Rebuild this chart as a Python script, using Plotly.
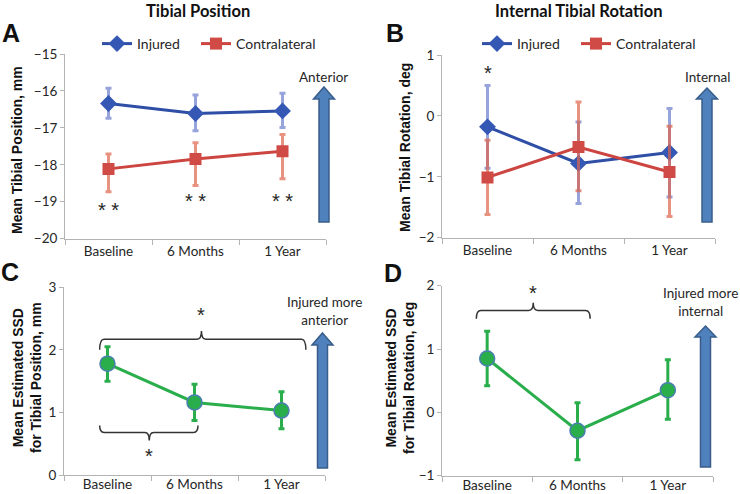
import plotly.graph_objects as go

W, H = 740, 494

# ---- data ----
periods = ['Baseline', '6 Months', '1 Year']

# A: tibial position, mm
pos_inj = [-16.34, -16.61, -16.54]
pos_inj_up = [0.41, 0.50, 0.48]
pos_inj_dn = [0.40, 0.47, 0.45]
pos_con = [-18.11, -17.84, -17.63]
pos_con_up = [0.40, 0.44, 0.45]
pos_con_dn = [0.62, 0.72, 0.75]

# B: internal tibial rotation, deg
rot_inj = [-0.18, -0.78, -0.60]
rot_inj_up = [0.68, 0.68, 0.72]
rot_inj_dn = [0.68, 0.66, 0.73]
rot_con = [-1.01, -0.51, -0.92]
rot_con_up = [0.61, 0.74, 0.75]
rot_con_dn = [0.61, 0.72, 0.73]

# C / D: side-to-side difference
ssd_pos = [1.78, 1.16, 1.03]
ssd_pos_up = [0.27, 0.29, 0.30]
ssd_pos_dn = [0.28, 0.29, 0.29]
ssd_rot = [0.85, -0.29, 0.35]
ssd_rot_up = [0.43, 0.44, 0.48]
ssd_rot_dn = [0.43, 0.46, 0.46]

BLUE, BLUE_ERR = '#2f4fa6', 'rgba(95,115,200,0.65)'
RED, RED_ERR = '#cc4540', 'rgba(222,100,75,0.7)'
GREEN = '#2aae4c'
AXC = '#b3b3b3'
TXT = '#262626'
FONT = 'Lato'
BOLD = 'Liberation Sans'


def px(x):
    return x / W


def py(y):
    return 1 - y / H


x = list(range(len(periods)))
fig = go.Figure()


def err(up, dn, color):
    return dict(type='data', array=up, arrayminus=dn, color=color,
                thickness=3, width=3)


fig.add_trace(go.Scatter(x=x, y=pos_inj, name='Injured', mode='lines+markers',
                         line=dict(color=BLUE, width=3),
                         marker=dict(symbol='diamond', size=13, color='#3558b5'),
                         error_y=err(pos_inj_up, pos_inj_dn, BLUE_ERR),
                         xaxis='x', yaxis='y', legend='legend'))
fig.add_trace(go.Scatter(x=x, y=pos_con, name='Contralateral', mode='lines+markers',
                         line=dict(color=RED, width=3),
                         marker=dict(symbol='square', size=12, color='#d04a46'),
                         error_y=err(pos_con_up, pos_con_dn, RED_ERR),
                         xaxis='x', yaxis='y', legend='legend3'))
fig.add_trace(go.Scatter(x=x, y=rot_inj, name='Injured', mode='lines+markers',
                         line=dict(color=BLUE, width=3),
                         marker=dict(symbol='diamond', size=13, color='#3558b5'),
                         error_y=err(rot_inj_up, rot_inj_dn, BLUE_ERR),
                         xaxis='x2', yaxis='y2', legend='legend2'))
fig.add_trace(go.Scatter(x=x, y=rot_con, name='Contralateral', mode='lines+markers',
                         line=dict(color=RED, width=3),
                         marker=dict(symbol='square', size=12, color='#d04a46'),
                         error_y=err(rot_con_up, rot_con_dn, RED_ERR),
                         xaxis='x2', yaxis='y2', legend='legend4'))
fig.add_trace(go.Scatter(x=x, y=ssd_pos, mode='lines+markers', showlegend=False,
                         line=dict(color=GREEN, width=3),
                         marker=dict(size=15, color=GREEN, line=dict(color='#4a7fb0', width=1.5)),
                         error_y=err(ssd_pos_up, ssd_pos_dn, GREEN),
                         xaxis='x3', yaxis='y3'))
fig.add_trace(go.Scatter(x=x, y=ssd_rot, mode='lines+markers', showlegend=False,
                         line=dict(color=GREEN, width=3),
                         marker=dict(size=15, color=GREEN, line=dict(color='#4a7fb0', width=1.5)),
                         error_y=err(ssd_rot_up, ssd_rot_dn, GREEN),
                         xaxis='x4', yaxis='y4'))


def xax(x0, x1, anchor, standoff=0):
    return dict(domain=[px(x0), px(x1)], anchor=anchor, range=[-0.5, 2.5],
                tickvals=x, ticktext=periods, ticks='', showline=True,
                linecolor=AXC, linewidth=1, showgrid=False, zeroline=False,
                ticklabelstandoff=standoff,
                tickfont=dict(family=FONT, size=13.5, color=TXT), automargin=False,
                minor=dict(tickvals=[-0.5, 0.5, 1.5, 2.5], ticks='outside',
                           ticklen=5, tickcolor=AXC, showgrid=False),
                fixedrange=True)


def yax(y0, y1, anchor, rng):
    return dict(domain=[py(y0), py(y1)], anchor=anchor, range=rng, dtick=1,
                ticks='outside', ticklen=4, tickcolor=AXC, showline=True,
                linecolor=AXC, linewidth=1, showgrid=False, zeroline=False,
                automargin=False,
                tickfont=dict(family=FONT, size=13.5, color=TXT), fixedrange=True)


leg = dict(orientation='h', xanchor='left', yanchor='middle', y=py(44),
           font=dict(family=FONT, size=14, color=TXT), bgcolor='rgba(0,0,0,0)')

fig.update_layout(
    width=W, height=H, margin=dict(l=0, r=0, t=0, b=0, autoexpand=False),
    paper_bgcolor='white', plot_bgcolor='white',
    xaxis=xax(65, 326, 'y'), yaxis=yax(238.7, 54, 'x', [-20, -15]),
    xaxis2=xax(442, 715, 'y2'), yaxis2=yax(237.7, 55, 'x2', [-2, 1]),
    xaxis3=xax(64, 325, 'y3', -3), yaxis3=yax(475, 287.3, 'x3', [0, 3]),
    xaxis4=xax(442, 713, 'y4', -3), yaxis4=yax(475.7, 285.7, 'x4', [-1, 2]),
    legend=dict(leg, x=px(97)),
    legend3=dict(leg, x=px(196)),
    legend2=dict(leg, x=px(477)),
    legend4=dict(leg, x=px(576)),
)

ann = []


def text(t, x0, y0, size=13, family=FONT, bold=False, angle=0, color=TXT):
    if bold:
        t = '<b>' + t + '</b>'
    ann.append(dict(text=t, x=px(x0), y=py(y0), xref='paper', yref='paper',
                    showarrow=False, textangle=angle, xanchor='center', yanchor='middle',
                    font=dict(family=family, size=size, color=color)))


text('Tibial Position', 198, 10.5, size=16.5, bold=True, color='#111')
text('Internal Tibial Rotation', 579, 10.5, size=16.5, bold=True, color='#111')
for letter, lx, ly in [('A', 11, 33), ('B', 395, 33), ('C', 10, 272), ('D', 393, 273)]:
    text(letter, lx, ly, size=25, family=BOLD, bold=True, color='#111')

text('Mean Tibial Position, mm', 17, 150, size=14, family=BOLD, bold=True, angle=-90, color='#111')
text('Mean Tibial Rotation, deg', 405, 147, size=14, family=BOLD, bold=True, angle=-90, color='#111')
text('Mean Estimated SSD<br>for Tibial Position, mm', 27, 378, size=14, family=BOLD, bold=True,
     angle=-90, color='#111')
text('Mean Estimated SSD<br>for Tibial Rotation, deg', 400, 378, size=14, family=BOLD, bold=True,
     angle=-90, color='#111')

text('Anterior', 323, 77, size=13.5)
text('Internal', 707, 77, size=13.5)
text('Injured more<br>anterior', 324, 311, size=13.5)
text('Injured more<br>internal', 700, 302, size=13.5)

# significance stars in data coordinates
for xi, yi in [(0, -19.22), (1, -18.98), (2, -18.98)]:
    ann.append(dict(text='* *', x=xi, y=yi, xref='x', yref='y', showarrow=False,
                    font=dict(family=BOLD, size=20, color=TXT)))
ann.append(dict(text='*', x=0, y=0.71, xref='x2', yref='y2', showarrow=False,
                font=dict(family=BOLD, size=20, color=TXT)))
ann.append(dict(text='*', x=1.08, y=2.56, xref='x3', yref='y3', showarrow=False,
                font=dict(family=BOLD, size=20, color=TXT)))
ann.append(dict(text='*', x=0.48, y=0.3, xref='x3', yref='y3', showarrow=False,
                font=dict(family=BOLD, size=20, color=TXT)))
ann.append(dict(text='*', x=0.51, y=1.88, xref='x4', yref='y4', showarrow=False,
                font=dict(family=BOLD, size=20, color=TXT)))
fig.update_layout(annotations=ann)

shapes = []


def brace(xr, yr, x0, x1, xm, yh, ytip, ybump, dx=0.05):
    d = (f'M {x0},{ytip} Q {x0},{yh} {x0 + dx},{yh} L {xm - dx},{yh} '
         f'Q {xm},{yh} {xm},{ybump} Q {xm},{yh} {xm + dx},{yh} '
         f'L {x1 - dx},{yh} Q {x1},{yh} {x1},{ytip}')
    shapes.append(dict(type='path', path=d, xref=xr, yref=yr,
                       line=dict(color='#333', width=1.5)))


brace('x3', 'y3', -0.09, 2.28, 1.08, 2.17, 2.0, 2.3)
brace('x3', 'y3', -0.09, 1.04, 0.48, 0.68, 0.79, 0.55)
brace('x4', 'y4', -0.12, 1.14, 0.51, 1.61, 1.48, 1.73)


def arrow(cx, top, base, bottom, shaft=10, head=21):
    s, h = shaft / 2, head / 2
    pts = [(cx, top), (cx + h, base), (cx + s, base), (cx + s, bottom),
           (cx - s, bottom), (cx - s, base), (cx - h, base)]
    d = 'M ' + ' L '.join(f'{px(a):.5f},{py(b):.5f}' for a, b in pts) + ' Z'
    shapes.append(dict(type='path', path=d, xref='paper', yref='paper',
                       fillcolor='#4f81bd', line=dict(color='#385d8a', width=1.5)))


arrow(324, 87, 99, 222)
arrow(707, 88, 99, 222)
arrow(322.5, 333, 345, 468)
arrow(705.5, 326, 337, 467)
fig.update_layout(shapes=shapes)

# page body has a default margin; drop it so the figure fills the window
fig.write_html('out.html', config={'displayModeBar': False},
               post_script="document.body.style.margin='0';")
